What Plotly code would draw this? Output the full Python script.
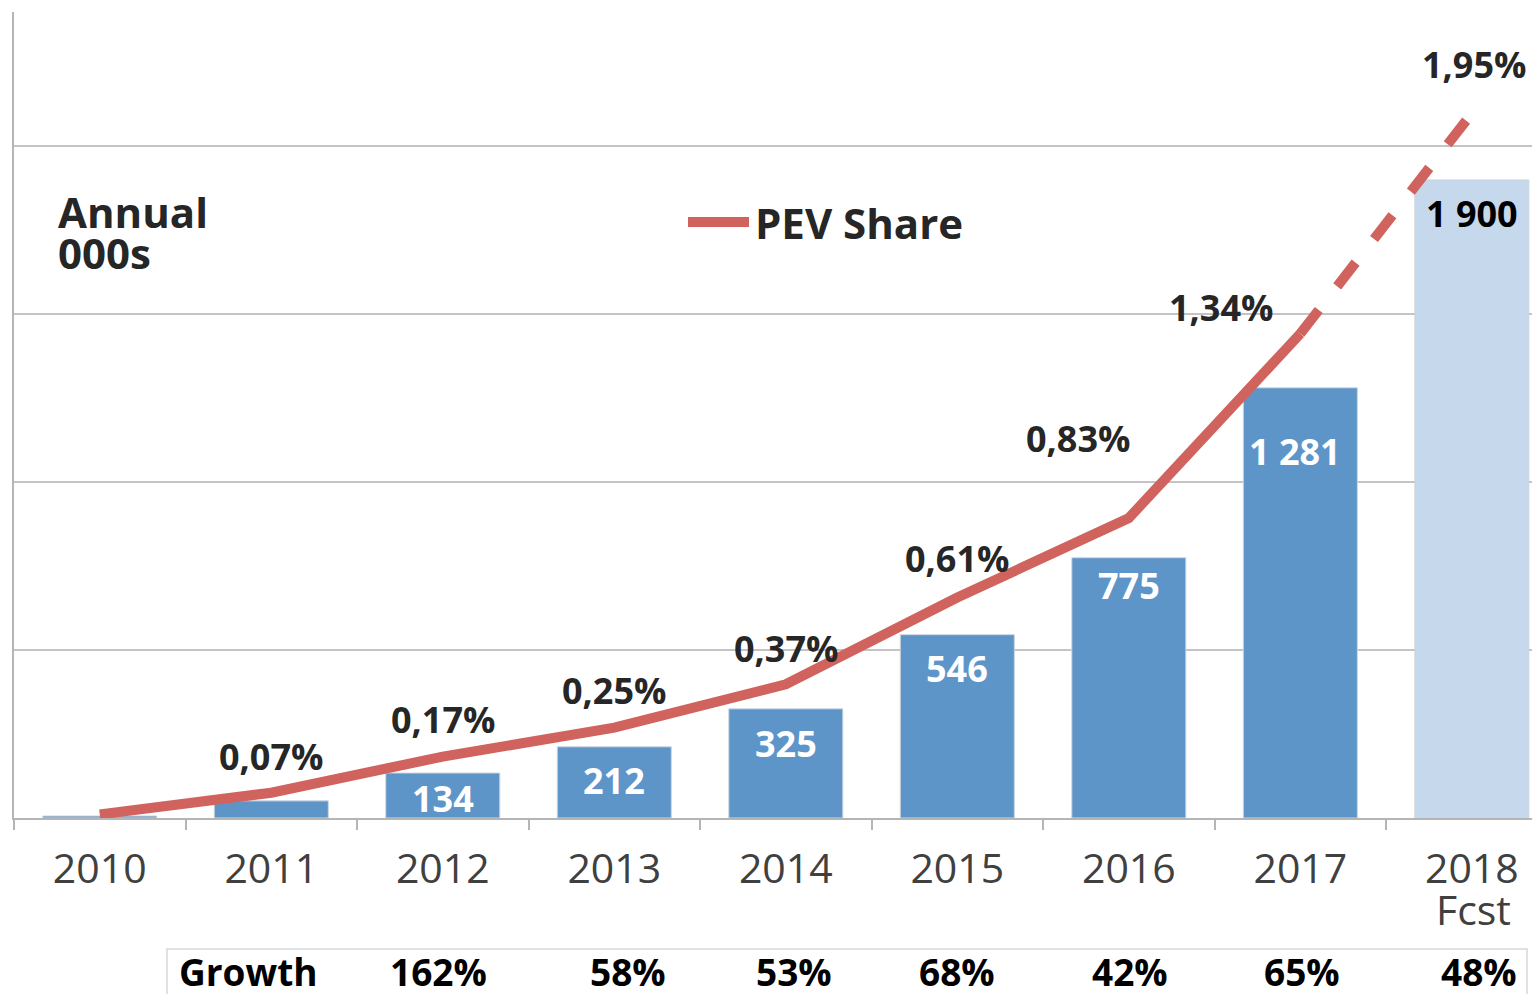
import plotly.graph_objects as go

years = ["2010", "2011", "2012", "2013", "2014", "2015", "2016", "2017", "2018"]
tick_labels = ["2010", "2011", "2012", "2013", "2014", "2015", "2016", "2017", "2018"]
forecast_note = "Fcst"
sales = [6, 51, 134, 212, 325, 546, 775, 1281, 1900]
share = [0.01, 0.07, 0.17, 0.25, 0.37, 0.61, 0.83, 1.34, 1.95]
growth_years = ["2012", "2013", "2014", "2015", "2016", "2017", "2018"]
growth = ["162%", "58%", "53%", "68%", "42%", "65%", "48%"]

FONT = "Open Sans"
DARK = "#262626"
BLUE = "#5e95c9"
LIGHT = "#c5d8ec"
RED = "#d0635d"

# plot-area geometry (pixels inside the figure; page adds 8px body margin)
W, H = 1540, 994
ML, MT, MB = 6, 4, 184
PW = W - ML
PH = H - MT - MB


def px(X):  # page x -> paper x
    return (X - 8 - ML) / PW


def py(Y):  # page y -> paper y
    return (H - MB + 8 - Y) / PH


fig = go.Figure()

bar_colors = [BLUE] * 8 + [LIGHT]
fig.add_trace(go.Bar(x=years, y=sales, marker=dict(color=bar_colors, line=dict(color="#cfd6de", width=1)),
                     width=0.665, showlegend=False, hoverinfo="x+y"))

fig.add_trace(go.Scatter(x=years[:8], y=share[:8], yaxis="y2", mode="lines", name="PEV Share",
                         line=dict(color=RED, width=10), showlegend=False))
fig.add_trace(go.Scatter(x=years[7:], y=share[7:], yaxis="y2", mode="lines",
                         line=dict(color=RED, width=10, dash="dash"), showlegend=False))

idx = {y: i for i, y in enumerate(years)}
annotations = []
# bar value labels
bar_shift = {2: (0, -25), 3: (0, -34), 4: (0, -35), 5: (0, -34), 6: (0, -28), 7: (-5, -64), 8: (0, -34)}
for i, (dx, dy) in bar_shift.items():
    annotations.append(dict(x=i, y=sales[i], xref="x", yref="y", showarrow=False,
                            text=f"{sales[i]:,}".replace(",", " "), xshift=dx, yshift=dy,
                            font=dict(family=FONT, size=36, color="black" if i == 8 else "white", weight="bold")))
# share labels
share_shift = {1: (0, 36), 2: (0, 37), 3: (0, 37), 4: (0, 36), 5: (0, 39), 6: (-51, 80), 7: (-79, 26), 8: (2, 49)}
for i, (dx, dy) in share_shift.items():
    annotations.append(dict(x=i, y=share[i], xref="x", yref="y2", showarrow=False,
                            text=f"{share[i]:.2f}".replace(".", ",") + "%", xshift=dx, yshift=dy,
                            font=dict(family=FONT, size=36, color=DARK, weight="bold")))
# growth row
annotations.append(dict(x=px(177), y=py(972), xref="paper", yref="paper", xanchor="left", yanchor="middle",
                        showarrow=False, text="Growth",
                        font=dict(family=FONT, size=37, color="black", weight="bold")))
growth_dx = [-4, 14, 8, 0, 1, 2, 7]
for g, val, dx in zip(growth_years, growth, growth_dx):
    annotations.append(dict(x=idx[g], y=py(972), xref="x", yref="paper", yanchor="middle", showarrow=False,
                            text=val, xshift=dx,
                            font=dict(family=FONT, size=37, color="black", weight="bold")))
# forecast note under 2018 tick
annotations.append(dict(x=8, y=py(909), xref="x", yref="paper", yanchor="middle", showarrow=False,
                        text=forecast_note, xshift=2, font=dict(family=FONT, size=41, color="#404040")))
# axis title
annotations.append(dict(x=px(56), y=py(211), xref="paper", yref="paper", xanchor="left", yanchor="middle",
                        showarrow=False, text="Annual", font=dict(family=FONT, size=42, color=DARK, weight="bold")))
annotations.append(dict(x=px(56), y=py(252), xref="paper", yref="paper", xanchor="left", yanchor="middle",
                        showarrow=False, text="000s", font=dict(family=FONT, size=42, color=DARK, weight="bold")))
# legend text
annotations.append(dict(x=px(753), y=py(222), xref="paper", yref="paper", xanchor="left", yanchor="middle",
                        showarrow=False, text="PEV Share", font=dict(family=FONT, size=42, color=DARK, weight="bold")))

shapes = [
    dict(type="rect", xref="paper", yref="paper", x0=px(167), x1=px(1527), y0=py(949), y1=py(1010),
         line=dict(color="#d8d8d8", width=1.5), fillcolor="rgba(0,0,0,0)", layer="below"),
    dict(type="line", xref="paper", yref="paper", x0=px(688), x1=px(749), y0=py(222), y1=py(222),
         line=dict(color=RED, width=10)),
]

fig.update_layout(
    width=W, height=H,
    margin=dict(l=ML, r=0, t=MT, b=MB, autoexpand=False),
    paper_bgcolor="white", plot_bgcolor="white",
    font=dict(family=FONT, color=DARK),
    showlegend=False,
    xaxis=dict(type="category", categoryorder="array", categoryarray=years,
               tickvals=years, ticktext=tick_labels, range=[-0.5, 8.444],
               showline=True, linecolor="#b5b5b5", linewidth=2,
               ticks="outside", tickson="boundaries", ticklen=10, tickcolor="#b5b5b5", tickwidth=2,
               tickfont=dict(family=FONT, size=41, color="#404040"), ticklabelstandoff=14,
               showgrid=False, zeroline=False),
    yaxis=dict(range=[0, 2400], tickvals=[500, 1000, 1500, 2000], showticklabels=False,
               showgrid=True, gridcolor="#c4c4c4", gridwidth=2,
               showline=True, linecolor="#b5b5b5", linewidth=2, zeroline=False),
    yaxis2=dict(range=[0, 2.23], overlaying="y", side="right", showgrid=False,
                showticklabels=False, showline=False, zeroline=False),
    annotations=annotations,
    shapes=shapes,
)

fig.write_html("out.html")
